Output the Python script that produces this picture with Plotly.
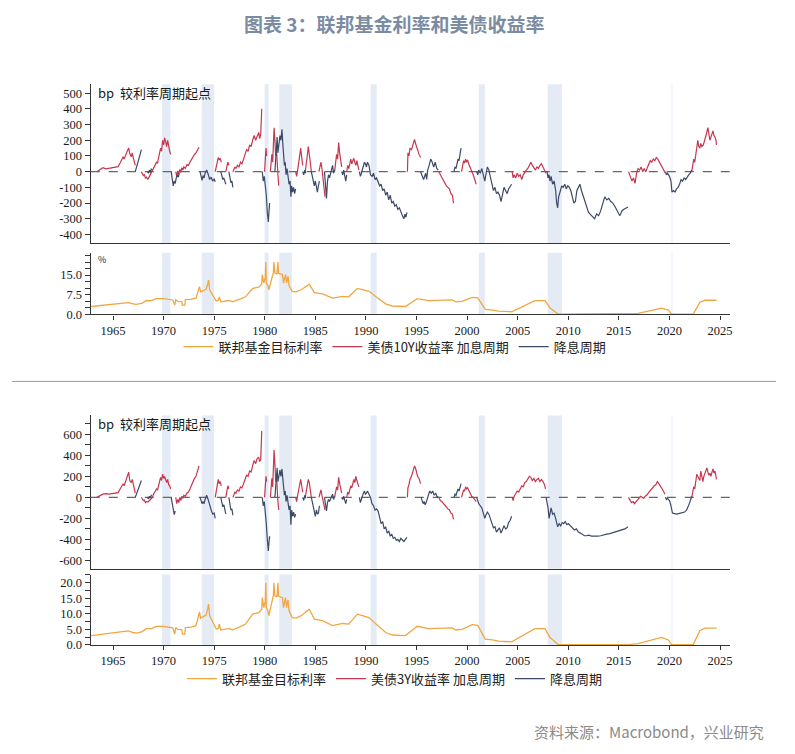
import plotly.graph_objects as go

# ---------------- data ----------------
FED_FUNDS = [(1962.85,3.0),(1963.5,3.3),(1964.0,3.5),(1964.8,3.8),(1965.8,4.25),(1966.5,4.5),(1967.0,4.0),
    (1967.3,3.8),(1967.9,4.3),(1968.3,5.3),(1968.7,5.2),(1969.0,5.7),(1969.3,6.0),(1970.0,6.0),(1970.7,5.8),
    (1970.9,5.5),(1971.1,3.5),(1971.2,5.6),(1971.4,5.0),(1971.8,4.9),(1971.85,3.5),(1972.1,3.5),(1972.15,5.6),
    (1972.7,5.7),(1973.2,6.2),(1973.45,9.0),(1973.55,10.6),(1973.65,8.6),(1974.2,9.6),(1974.35,11.5),
    (1974.45,13.1),(1974.55,9.4),(1974.85,7.2),(1975.2,5.1),(1975.4,5.3),(1975.5,6.7),(1975.65,4.8),
    (1976.0,5.0),(1976.5,5.3),(1976.8,4.8),(1977.4,5.5),(1977.8,6.2),(1978.1,6.7),(1978.8,9.9),(1979.4,10.4),
    (1979.7,11.5),(1979.75,15.2),(1979.9,12.0),(1980.05,14.0),(1980.1,20.0),(1980.15,12.0),(1980.3,11.0),
    (1980.4,9.4),(1980.7,14.1),(1980.85,16.0),(1980.9,20.0),(1981.0,15.7),(1981.2,15.5),(1981.3,20.0),
    (1981.35,15.7),(1981.75,15.2),(1981.85,12.0),(1982.05,15.2),(1982.15,12.0),(1982.3,14.5),(1982.4,11.0),
    (1982.7,8.8),(1983.1,8.6),(1983.6,9.4),(1984.4,11.5),(1984.7,9.4),(1984.9,8.3),(1985.7,7.8),(1986.7,6.2),
    (1987.7,6.9),(1988.3,6.7),(1989.15,9.9),(1990.3,8.8),(1991.0,6.7),(1991.95,4.0),(1992.6,3.2),(1993.9,3.0),
    (1995.07,6.0),(1996.2,5.25),(1998.5,5.5),(1998.9,4.8),(1999.5,5.0),(2000.5,6.5),(2001.05,6.3),(2001.8,1.9),
    (2002.5,1.6),(2003.1,1.2),(2004.4,1.0),(2006.7,5.25),(2007.7,5.25),(2008.2,2.4),(2009.0,0.12),(2015.9,0.12),
    (2016.9,0.4),(2018.25,1.5),(2019.2,2.4),(2019.9,1.6),(2020.2,0.1),(2022.35,0.1),(2023.0,4.6),(2023.5,5.4),
    (2024.65,5.4)]

# 10Y yield, bp change since start of each hiking cycle
Y10_HIKE = [
    [(1963.4,0),(1963.7,12),(1964.0,25),(1964.3,18),(1964.6,22),(1964.9,24),(1965.2,26),(1965.5,32),(1965.7,55),
     (1965.9,80),(1966.0,95),(1966.1,80),(1966.25,110),(1966.4,130),(1966.55,150),(1966.65,115),(1966.8,95),
     (1966.9,120),(1967.0,90),(1967.1,60),(1967.2,40)],
    [(1967.8,0),(1967.9,-15),(1968.0,-25),(1968.1,-20),(1968.2,-40),(1968.3,-35),(1968.45,-50),(1968.6,-30),
     (1968.75,-10),(1968.9,0),(1969.0,20),(1969.15,40),(1969.3,60),(1969.4,55),(1969.5,90),(1969.6,110),
     (1969.7,150),(1969.8,130),(1969.9,200),(1970.0,170),(1970.1,215),(1970.2,190),(1970.3,160),(1970.4,200),
     (1970.5,150),(1970.6,130),(1970.7,110)],
    [(1971.2,0),(1971.3,-30),(1971.4,5),(1971.5,-15),(1971.6,15),(1971.7,-5),(1971.8,25),(1971.9,10),(1972.0,30),
     (1972.15,20),(1972.3,45),(1972.45,40),(1972.6,60),(1972.75,80),(1972.9,95),(1973.05,110),(1973.2,120),
     (1973.35,135),(1973.5,155)],
    [(1975.1,0),(1975.2,30),(1975.3,55),(1975.4,90),(1975.5,75),(1975.6,85),(1975.7,60)],
    [(1976.15,0),(1976.25,35),(1976.35,60),(1976.45,40)],
    [(1976.85,0),(1976.95,20),(1977.05,30),(1977.15,20),(1977.3,40),(1977.45,30),(1977.6,60),(1977.75,50),
     (1977.9,90),(1978.05,110),(1978.2,140),(1978.35,130),(1978.5,170),(1978.65,160),(1978.8,200),(1978.95,230),
     (1979.1,200),(1979.25,220),(1979.4,250),(1979.5,210),(1979.6,240),(1979.7,400)],
    [(1979.98,0),(1980.05,70),(1980.12,150),(1980.18,100)],
    [(1980.55,0),(1980.62,50),(1980.7,110),(1980.78,60),(1980.85,140),(1980.92,280),(1981.0,200),(1981.08,100),
     (1981.15,150),(1981.22,40),(1981.3,-20),(1981.38,-90)],
    [(1983.05,0),(1983.15,-30),(1983.25,10),(1983.35,60),(1983.45,120),(1983.55,150),(1983.65,90),(1983.75,40)],
    [(1984.0,0),(1984.1,40),(1984.2,100),(1984.3,160),(1984.4,120),(1984.5,60),(1984.6,0)],
    [(1985.35,0),(1985.45,30),(1985.55,60),(1985.65,20),(1985.75,-40),(1985.85,-100),(1985.95,-160)],
    [(1986.9,0),(1987.0,50),(1987.1,110),(1987.2,80),(1987.3,185),(1987.4,120),(1987.5,60),(1987.6,30)],
    [(1988.1,0),(1988.2,40),(1988.3,20),(1988.4,60),(1988.5,80),(1988.6,50),(1988.7,70),(1988.8,85),(1988.9,60),
     (1989.0,40),(1989.1,70),(1989.2,30),(1989.3,10)],
    [(1994.1,0),(1994.15,120),(1994.25,100),(1994.35,150),(1994.5,140),(1994.65,180),(1994.8,205),(1994.95,170),
     (1995.1,130),(1995.25,110),(1995.4,90)],
    [(1997.2,0),(1997.35,-20),(1997.5,-30),(1997.65,-50),(1997.8,-70),(1997.95,-90),(1998.1,-100),(1998.25,-110),
     (1998.4,-140),(1998.55,-150),(1998.65,-200)],
    [(1999.45,0),(1999.55,40),(1999.65,70),(1999.75,55),(1999.85,80),(1999.95,60),(2000.05,75),(2000.15,50),
     (2000.3,30),(2000.45,0),(2000.6,-20),(2000.75,-50),(2000.9,-80)],
    [(2004.45,0),(2004.55,-40),(2004.65,-20),(2004.8,-40),(2004.95,-10),(2005.1,-30),(2005.25,-20),(2005.4,-50),
     (2005.55,-20),(2005.7,0),(2005.85,10),(2006.0,20),(2006.15,40),(2006.3,60),(2006.45,40),(2006.6,20),
     (2006.75,10),(2006.9,30),(2007.05,20),(2007.2,40),(2007.35,50),(2007.5,30),(2007.65,10),(2007.8,-10)],
    [(2015.95,0),(2016.1,-30),(2016.3,-60),(2016.45,-40),(2016.6,-75),(2016.75,-10),(2016.9,20),(2017.05,10),
     (2017.2,30),(2017.35,0),(2017.5,20),(2017.65,0),(2017.8,20),(2017.95,40),(2018.1,70),(2018.25,60),
     (2018.4,80),(2018.55,70),(2018.7,90),(2018.85,80),(2019.0,60),(2019.15,50),(2019.3,20),(2019.45,0),
     (2019.6,-10)],
    [(2022.2,0),(2022.3,40),(2022.4,80),(2022.5,60),(2022.6,120),(2022.7,180),(2022.8,200),(2022.9,160),
     (2023.0,150),(2023.1,180),(2023.2,160),(2023.35,170),(2023.5,200),(2023.65,240),(2023.8,280),(2023.9,240),
     (2024.0,200),(2024.1,220),(2024.2,250),(2024.3,260),(2024.4,230),(2024.5,220),(2024.6,200),(2024.65,170)],
]
# 10Y yield, bp change since start of each cutting cycle
Y10_CUT = [
    [(1967.2,0),(1967.35,30),(1967.5,60),(1967.6,90),(1967.7,115),(1967.8,140)],
    [(1968.4,0),(1968.5,-10),(1968.6,10),(1968.7,-5),(1968.8,20)],
    [(1970.75,0),(1970.85,-40),(1970.95,-90),(1971.05,-60),(1971.15,-75),(1971.25,-40),(1971.35,-20),
     (1971.45,-35),(1971.55,-10)],
    [(1973.6,0),(1973.7,-30),(1973.8,-55),(1973.9,-25),(1974.0,-40),(1974.1,-10),(1974.25,10),(1974.4,-15),
     (1974.55,-50),(1974.7,-35),(1974.85,-60),(1975.0,-45),(1975.1,-65)],
    [(1975.65,0),(1975.75,-25),(1975.85,-50),(1975.95,-40),(1976.05,-70),(1976.15,-80)],
    [(1976.45,0),(1976.55,-40),(1976.65,-70),(1976.75,-60),(1976.85,-100)],
    [(1979.75,0),(1979.85,-60),(1979.95,-30),(1980.05,-80),(1980.15,-150),(1980.25,-260),(1980.35,-320),
     (1980.42,-250),(1980.48,-200)],
    [(1981.0,0),(1981.08,80),(1981.15,150),(1981.22,220),(1981.3,120),(1981.4,180),(1981.5,230),(1981.6,200),
     (1981.7,270),(1981.78,180),(1981.86,130),(1981.94,40),(1982.02,60),(1982.1,-20),(1982.2,20),(1982.3,-30),
     (1982.4,-80),(1982.5,-60),(1982.58,-160),(1982.66,-90),(1982.75,-130),(1982.85,-100),(1982.95,-140),
     (1983.05,-110)],
    [(1983.75,0),(1983.85,-20),(1983.95,10),(1984.05,-10)],
    [(1984.6,0),(1984.7,-30),(1984.8,-60),(1984.9,-90),(1985.0,-60),(1985.1,-100),(1985.2,-130),(1985.3,-90),
     (1985.4,-60)],
    [(1985.9,0),(1986.0,-80),(1986.1,-170),(1986.2,-60),(1986.3,-20),(1986.4,-40),(1986.5,-10),(1986.6,20),
     (1986.7,40),(1986.8,-10),(1986.9,10)],
    [(1987.6,0),(1987.7,-20),(1987.8,10),(1987.9,-40),(1988.0,-60),(1988.1,-20)],
    [(1989.35,0),(1989.45,-30),(1989.55,-10),(1989.65,20),(1989.75,40),(1989.85,60),(1989.95,50),(1990.05,30),
     (1990.15,60),(1990.3,40),(1990.45,-20),(1990.6,-30),(1990.75,-10),(1990.9,-50),(1991.05,-40),(1991.2,-70),
     (1991.35,-90),(1991.5,-80),(1991.65,-120),(1991.8,-110),(1991.95,-150),(1992.1,-130),(1992.25,-180),
     (1992.4,-150),(1992.55,-200),(1992.7,-190),(1992.85,-220),(1993.0,-210),(1993.15,-240),(1993.3,-230),
     (1993.45,-260),(1993.6,-280),(1993.75,-300),(1993.85,-270),(1993.95,-290),(1994.05,-260)],
    [(1995.4,0),(1995.5,-20),(1995.6,-40),(1995.7,-50),(1995.8,-30),(1995.9,-10),(1996.0,-50),(1996.1,10),
     (1996.25,40),(1996.4,80),(1996.55,60),(1996.7,30),(1996.85,60),(1997.0,20),(1997.15,10)],
    [(1998.7,0),(1998.8,30),(1998.9,20),(1999.0,60),(1999.1,80),(1999.2,70),(1999.3,110),(1999.4,150)],
    [(2000.95,0),(2001.05,-20),(2001.15,10),(2001.3,-10),(2001.45,20),(2001.6,-30),(2001.75,-60),(2001.85,-20),
     (2002.0,30),(2002.15,10),(2002.3,-30),(2002.45,-70),(2002.6,-120),(2002.75,-100),(2002.9,-140),
     (2003.05,-130),(2003.2,-150),(2003.35,-190),(2003.5,-130),(2003.65,-100),(2003.8,-120),(2003.95,-140),
     (2004.1,-110),(2004.25,-90),(2004.4,-80)],
    [(2007.9,0),(2008.0,-40),(2008.1,-20),(2008.2,-60),(2008.3,-30),(2008.45,-80),(2008.6,-60),(2008.75,-120),
     (2008.85,-200),(2008.95,-230),(2009.05,-160),(2009.2,-130),(2009.35,-90),(2009.5,-100),(2009.65,-80),
     (2009.8,-110),(2009.95,-90),(2010.1,-100),(2010.25,-120),(2010.4,-160),(2010.55,-200),(2010.7,-190),
     (2010.85,-120),(2011.0,-100),(2011.15,-80),(2011.3,-120),(2011.45,-150),(2011.6,-180),(2011.8,-230),
     (2012.0,-260),(2012.3,-280),(2012.6,-300),(2012.8,-270),(2013.0,-280),(2013.2,-250),(2013.4,-200),
     (2013.6,-160),(2013.8,-180),(2014.0,-170),(2014.2,-190),(2014.4,-200),(2014.6,-220),(2014.8,-250),
     (2015.0,-270),(2015.1,-280),(2015.3,-250),(2015.5,-240),(2015.7,-235),(2015.9,-225)],
    [(2019.6,0),(2019.7,-20),(2019.8,-10),(2019.9,-20),(2020.0,-30),(2020.15,-60),(2020.25,-130),(2020.4,-120),
     (2020.55,-130),(2020.7,-110),(2020.85,-100),(2021.0,-80),(2021.15,-50),(2021.3,-60),(2021.45,-40),
     (2021.6,-50),(2021.75,-30),(2021.9,-20),(2022.05,-10),(2022.2,10)],
]

# 3Y yield, bp change since start of each hiking cycle
Y3_HIKE = [
    [(1963.4,0),(1963.7,15),(1964.0,30),(1964.3,35),(1964.6,30),(1964.9,35),(1965.2,40),(1965.5,45),(1965.7,80),
     (1965.9,110),(1966.0,130),(1966.1,110),(1966.25,150),(1966.4,200),(1966.55,240),(1966.65,160),(1966.8,140),
     (1966.9,170),(1967.0,120),(1967.1,80),(1967.2,40)],
    [(1967.8,0),(1967.9,-20),(1968.0,-30),(1968.1,-25),(1968.2,-50),(1968.3,-40),(1968.45,-45),(1968.6,-30),
     (1968.75,-10),(1968.9,0),(1969.0,30),(1969.15,50),(1969.3,80),(1969.4,70),(1969.5,110),(1969.6,140),
     (1969.7,190),(1969.8,160),(1969.9,220),(1970.0,180),(1970.1,200),(1970.2,170),(1970.3,140),(1970.4,170),
     (1970.5,120),(1970.6,110),(1970.7,80)],
    [(1971.2,0),(1971.3,-60),(1971.4,-20),(1971.5,-50),(1971.6,0),(1971.7,-30),(1971.8,10),(1971.9,-10),
     (1972.0,20),(1972.15,10),(1972.3,40),(1972.45,50),(1972.6,80),(1972.75,120),(1972.9,150),(1973.05,180),
     (1973.2,200),(1973.35,250),(1973.5,300)],
    [(1975.1,0),(1975.2,50),(1975.3,100),(1975.4,170),(1975.5,130),(1975.6,150),(1975.7,110)],
    [(1976.15,0),(1976.25,60),(1976.35,110),(1976.45,80)],
    [(1976.85,0),(1976.95,30),(1977.05,50),(1977.15,40),(1977.3,70),(1977.45,60),(1977.6,100),(1977.75,90),
     (1977.9,140),(1978.05,170),(1978.2,210),(1978.35,200),(1978.5,250),(1978.65,240),(1978.8,300),(1978.95,350),
     (1979.1,320),(1979.25,370),(1979.4,380),(1979.5,340),(1979.6,360),(1979.7,630)],
    [(1979.98,0),(1980.05,100),(1980.12,200),(1980.18,150)],
    [(1980.55,0),(1980.62,80),(1980.7,180),(1980.78,100),(1980.85,250),(1980.92,450),(1981.0,320),(1981.08,150),
     (1981.15,220),(1981.22,60),(1981.3,-40),(1981.38,-120)],
    [(1983.05,0),(1983.15,-40),(1983.25,20),(1983.35,80),(1983.45,150),(1983.55,170),(1983.65,110),(1983.75,50)],
    [(1984.0,0),(1984.1,50),(1984.2,110),(1984.3,170),(1984.4,140),(1984.5,70),(1984.6,0)],
    [(1985.35,0),(1985.45,40),(1985.55,70),(1985.65,20),(1985.75,-40),(1985.85,-90),(1985.95,-120)],
    [(1986.9,0),(1987.0,40),(1987.1,100),(1987.2,70),(1987.3,190),(1987.4,130),(1987.5,70),(1987.6,40)],
    [(1988.1,0),(1988.2,50),(1988.3,30),(1988.4,80),(1988.5,110),(1988.6,90),(1988.7,130),(1988.8,170),
     (1988.9,140),(1989.0,200),(1989.1,160),(1989.2,130),(1989.3,100)],
    [(1994.1,0),(1994.15,90),(1994.25,120),(1994.35,170),(1994.5,200),(1994.65,250),(1994.8,300),(1994.95,260),
     (1995.1,200),(1995.25,180),(1995.4,130)],
    [(1997.2,0),(1997.35,-30),(1997.5,-40),(1997.65,-60),(1997.8,-80),(1997.95,-100),(1998.1,-110),
     (1998.25,-120),(1998.4,-150),(1998.55,-160),(1998.65,-210)],
    [(1999.45,0),(1999.55,40),(1999.65,70),(1999.75,60),(1999.85,100),(1999.95,80),(2000.05,90),(2000.15,70),
     (2000.3,40),(2000.45,10),(2000.6,0),(2000.75,-20),(2000.9,-40)],
    [(2004.45,0),(2004.55,-30),(2004.65,10),(2004.8,30),(2004.95,60),(2005.1,50),(2005.25,90),(2005.4,110),
     (2005.55,100),(2005.7,140),(2005.85,150),(2006.0,170),(2006.15,200),(2006.3,190),(2006.45,160),
     (2006.6,180),(2006.75,150),(2006.9,170),(2007.05,180),(2007.2,150),(2007.35,170),(2007.5,150),
     (2007.65,120),(2007.75,80)],
    [(2015.95,0),(2016.1,-30),(2016.25,-50),(2016.4,-40),(2016.55,-60),(2016.7,-40),(2016.85,-20),(2017.0,-10),
     (2017.15,10),(2017.3,0),(2017.45,-10),(2017.6,10),(2017.75,20),(2017.9,40),(2018.05,60),(2018.2,80),
     (2018.35,100),(2018.5,110),(2018.65,120),(2018.8,150),(2018.95,130),(2019.1,110),(2019.25,90),
     (2019.4,60),(2019.55,30)],
    [(2022.2,0),(2022.3,50),(2022.4,100),(2022.5,80),(2022.6,150),(2022.7,220),(2022.8,200),(2022.9,170),
     (2023.0,160),(2023.1,250),(2023.2,180),(2023.3,150),(2023.4,200),(2023.5,230),(2023.6,260),(2023.7,280),
     (2023.8,240),(2023.9,210),(2024.0,230),(2024.1,200),(2024.2,240),(2024.3,270),(2024.4,230),(2024.5,250),
     (2024.6,200),(2024.65,170)],
]
# 3Y yield, bp change since start of each cutting cycle
Y3_CUT = [
    [(1967.2,0),(1967.35,40),(1967.5,80),(1967.6,120),(1967.7,140),(1967.8,160)],
    [(1968.4,0),(1968.5,-15),(1968.6,10),(1968.7,-5),(1968.8,25)],
    [(1970.75,0),(1970.85,-60),(1970.95,-120),(1971.05,-165),(1971.15,-130)],
    [(1973.6,0),(1973.7,-40),(1973.8,-60),(1973.9,-40),(1974.0,-60),(1974.1,-20),(1974.25,20),(1974.4,-20),
     (1974.55,-80),(1974.7,-120),(1974.85,-160),(1975.0,-150),(1975.1,-200)],
    [(1975.65,0),(1975.75,-40),(1975.85,-90),(1975.95,-70),(1976.05,-130),(1976.15,-160)],
    [(1976.45,0),(1976.55,-60),(1976.65,-120),(1976.75,-110),(1976.85,-170)],
    [(1979.75,0),(1979.85,-80),(1979.95,-40),(1980.05,-120),(1980.15,-250),(1980.25,-400),(1980.35,-510),
     (1980.42,-420),(1980.48,-370)],
    [(1981.0,0),(1981.08,100),(1981.15,200),(1981.22,280),(1981.3,150),(1981.4,220),(1981.5,260),(1981.6,200),
     (1981.7,270),(1981.78,180),(1981.86,120),(1981.94,20),(1982.02,60),(1982.1,-40),(1982.2,20),(1982.3,-60),
     (1982.4,-120),(1982.5,-80),(1982.58,-260),(1982.66,-120),(1982.75,-180),(1982.85,-140),(1982.95,-190),
     (1983.05,-160)],
    [(1983.75,0),(1983.85,-30),(1983.95,20),(1984.05,-10)],
    [(1984.6,0),(1984.7,-40),(1984.8,-80),(1984.9,-130),(1985.0,-180),(1985.1,-120),(1985.2,-160),(1985.3,-150),
     (1985.4,-80)],
    [(1985.9,0),(1986.0,-60),(1986.1,-130),(1986.2,-50),(1986.3,-20),(1986.4,-40),(1986.5,-10),(1986.6,10),
     (1986.7,30),(1986.8,-20),(1986.9,10)],
    [(1987.6,0),(1987.7,-20),(1987.8,10),(1987.9,-40),(1988.0,-60),(1988.1,-20)],
    [(1989.35,0),(1989.45,-50),(1989.55,-20),(1989.65,20),(1989.75,40),(1989.85,60),(1989.95,30),(1990.05,40),
     (1990.15,60),(1990.3,30),(1990.45,0),(1990.6,-60),(1990.75,-80),(1990.9,-120),(1991.05,-110),
     (1991.2,-130),(1991.35,-180),(1991.5,-250),(1991.65,-230),(1991.8,-300),(1991.95,-280),(1992.1,-340),
     (1992.25,-320),(1992.4,-370),(1992.55,-350),(1992.7,-390),(1992.85,-380),(1993.0,-410),(1993.15,-400),
     (1993.3,-420),(1993.45,-390),(1993.6,-410),(1993.75,-420),(1993.9,-400),(1994.05,-380)],
    [(1995.45,0),(1995.55,-30),(1995.65,-60),(1995.75,-40),(1995.85,-70),(1995.95,-50),(1996.05,-20),
     (1996.15,30),(1996.3,60),(1996.45,40),(1996.6,60),(1996.75,20),(1996.9,40),(1997.05,0),(1997.15,10)],
    [(1998.7,0),(1998.8,30),(1998.9,20),(1999.0,50),(1999.1,80),(1999.2,60),(1999.3,100),(1999.4,130)],
    [(2000.95,0),(2001.05,-30),(2001.15,-60),(2001.3,-80),(2001.45,-100),(2001.6,-150),(2001.75,-200),
     (2001.85,-170),(2002.0,-140),(2002.15,-160),(2002.3,-200),(2002.45,-250),(2002.6,-290),(2002.75,-280),
     (2002.9,-330),(2003.05,-310),(2003.2,-290),(2003.35,-340),(2003.5,-310),(2003.65,-270),(2003.8,-300),
     (2003.95,-290),(2004.1,-240),(2004.25,-220),(2004.4,-180)],
    [(2007.8,0),(2007.9,-50),(2008.0,-100),(2008.1,-200),(2008.2,-130),(2008.3,-100),(2008.45,-160),
     (2008.6,-150),(2008.75,-200),(2008.85,-260),(2008.95,-280),(2009.1,-250),(2009.25,-270),(2009.4,-240),
     (2009.55,-250),(2009.7,-230),(2009.85,-260),(2010.0,-250),(2010.2,-270),(2010.4,-290),(2010.6,-310),
     (2010.8,-300),(2011.0,-330),(2011.2,-340),(2011.4,-350),(2011.6,-365),(2011.8,-365),(2012.0,-360),
     (2012.3,-368),(2012.6,-370),(2012.9,-368),(2013.2,-365),(2013.5,-355),(2013.8,-350),(2014.1,-345),
     (2014.4,-335),(2014.7,-330),(2015.0,-320),(2015.3,-310),(2015.6,-300),(2015.9,-280)],
    [(2019.6,0),(2019.7,-20),(2019.8,-10),(2019.9,-20),(2020.0,-30),(2020.1,-60),(2020.2,-130),(2020.3,-150),
     (2020.5,-155),(2020.7,-160),(2020.9,-155),(2021.1,-150),(2021.3,-145),(2021.5,-140),(2021.7,-120),
     (2021.85,-90),(2022.0,-50),(2022.1,-20),(2022.2,10)],
]

RECESSIONS = [(1969.83,1970.68),(1973.77,1974.99),(1979.98,1980.38),(1981.43,1982.68),(1990.47,1991.06),
              (2001.15,2001.75),(2007.96,2009.37)]
FAINT_RECESSIONS = [(2020.17,2020.33)]

X_TICKS = [1965, 1970, 1975, 1980, 1985, 1990, 1995, 2000, 2005, 2010, 2015, 2020, 2025]
Y10_TICKS = [-400, -300, -200, -100, 0, 100, 200, 300, 400, 500]
Y3_TICKS = [-600, -400, -200, 0, 200, 400, 600]
Y3_MINOR = [-500, -300, -100, 100, 300, 500, 700]
FF_TICKS_TOP = [0.0, 7.5, 15.0]
FF_MINOR_TOP = [2.5, 5.0, 10.0, 12.5, 17.5, 20.0, 22.5]
FF_TICKS_BOT = [0.0, 5.0, 10.0, 15.0, 20.0]
FF_MINOR_BOT = [2.5, 7.5, 12.5, 17.5, 22.5]

TITLE = "图表 3：联邦基金利率和美债收益率"
SOURCE = "资料来源：Macrobond，兴业研究"

# ---------------- styling ----------------
ORANGE = "#f0a742"
RED = "#c6374f"
NAVY = "#3c4a68"
BAND = "#e4ebf5"
FAINT_BAND = "#f0f4f9"
AXC = "#333333"
TICKFONT = dict(family="Liberation Serif, 'Times New Roman', serif", size=12.5, color="#1a1a1a")
CJK = "Noto Sans CJK SC"

W, H = 795, 754
XD = [91 / W, 732 / W]
def ydom(top_px, bot_px):
    return [1 - bot_px / H, 1 - top_px / H]

XR = [1962.8, 2026.0]

def join(segs):
    xs, ys = [], []
    for seg in segs:
        xs += [p[0] for p in seg] + [None]
        ys += [p[1] for p in seg] + [None]
    return xs, ys

def fmt(v):
    return ("%d" % v) if isinstance(v, int) else ("%.1f" % v)

fig = go.Figure()

def add_group(hike, cut, xa, ya_bp, xa_ff, ya_ff, legend, red_name):
    x, y = join(hike)
    fig.add_trace(go.Scatter(x=x, y=y, mode="lines", line=dict(color=RED, width=1.2),
                             name=red_name, xaxis=xa, yaxis=ya_bp, legend=legend,
                             legendrank=2, connectgaps=False, hoverinfo="skip"))
    x, y = join(cut)
    fig.add_trace(go.Scatter(x=x, y=y, mode="lines", line=dict(color=NAVY, width=1.2),
                             name="降息周期", xaxis=xa, yaxis=ya_bp, legend=legend,
                             legendrank=3, connectgaps=False, hoverinfo="skip"))
    fig.add_trace(go.Scatter(x=[p[0] for p in FED_FUNDS], y=[p[1] for p in FED_FUNDS], mode="lines",
                             line=dict(color=ORANGE, width=1.3), name="联邦基金目标利率",
                             xaxis=xa_ff, yaxis=ya_ff, legend=legend, legendrank=1, hoverinfo="skip"))

add_group(Y10_HIKE, Y10_CUT, "x", "y", "x2", "y2", "legend", "美债10Y收益率 加息周期")
add_group(Y3_HIKE, Y3_CUT, "x3", "y3", "x4", "y4", "legend2", "美债3Y收益率 加息周期")

def xaxis_cfg(anchor, dom_labels):
    d = dict(domain=XD, range=XR, anchor=anchor, showgrid=False, zeroline=False,
             showline=True, linecolor=AXC, linewidth=1.4, tickfont=TICKFONT, fixedrange=True)
    if dom_labels:
        d.update(tickmode="array", tickvals=X_TICKS, ticktext=[str(v) for v in X_TICKS],
                 ticks="outside", ticklen=4, tickcolor=AXC, showticklabels=True)
    else:
        d.update(showticklabels=False, ticks="")
    return d

def yaxis_cfg(anchor, dom, rng, tv, minor=None):
    d = dict(domain=dom, range=rng, anchor=anchor, showgrid=False, zeroline=False,
             showline=True, linecolor=AXC, linewidth=1.4, tickfont=TICKFONT,
             tickmode="array", tickvals=tv, ticktext=[fmt(v) for v in tv],
             ticks="outside", ticklen=5, tickcolor=AXC, fixedrange=True)
    if minor:
        d["minor"] = dict(tickmode="array", tickvals=minor, ticks="outside", ticklen=5, tickcolor=AXC)
    return d

LEGFONT = dict(family=CJK, size=13, color="#222")
fig.update_layout(
    width=W, height=H, margin=dict(l=0, r=0, t=0, b=0),
    paper_bgcolor="white", plot_bgcolor="white",
    xaxis=xaxis_cfg("y", False),
    yaxis=yaxis_cfg("x", ydom(85, 245.7), [-457, 557], Y10_TICKS),
    xaxis2=xaxis_cfg("y2", True),
    yaxis2=yaxis_cfg("x2", ydom(255, 317.3), [0, 23.6], FF_TICKS_TOP, FF_MINOR_TOP),
    xaxis3=xaxis_cfg("y3", False),
    yaxis3=yaxis_cfg("x3", ydom(419.3, 574), [-678, 779], Y3_TICKS, Y3_MINOR),
    xaxis4=xaxis_cfg("y4", True),
    yaxis4=yaxis_cfg("x4", ydom(580, 651), [0, 22.6], FF_TICKS_BOT, FF_MINOR_BOT),
    legend=dict(orientation="h", x=0.498, xanchor="center", y=1 - 350 / H, yanchor="middle",
                font=LEGFONT, bgcolor="rgba(0,0,0,0)", itemwidth=30, traceorder="normal"),
    legend2=dict(orientation="h", x=0.498, xanchor="center", y=1 - 685 / H, yanchor="middle",
                 font=LEGFONT, bgcolor="rgba(0,0,0,0)", itemwidth=30, traceorder="normal"),
    showlegend=True,
)

shapes = []
for xa, ya in [("x", "y"), ("x2", "y2"), ("x3", "y3"), ("x4", "y4")]:
    for a, b in RECESSIONS:
        shapes.append(dict(type="rect", xref=xa, yref=ya + " domain", x0=a, x1=b, y0=0, y1=1,
                           fillcolor=BAND, line=dict(width=0), layer="below"))
    for a, b in FAINT_RECESSIONS:
        shapes.append(dict(type="rect", xref=xa, yref=ya + " domain", x0=a, x1=b, y0=0, y1=1,
                           fillcolor=FAINT_BAND, line=dict(width=0), layer="below"))
for xa, ya in [("x", "y"), ("x3", "y3")]:
    shapes.append(dict(type="line", xref=xa + " domain", yref=ya, x0=0, x1=1, y0=0, y1=0,
                       line=dict(color="#666666", width=1.3, dash="dash"), layer="below"))
shapes.append(dict(type="line", xref="paper", yref="paper", x0=12 / W, x1=778 / W,
                   y0=1 - 385 / H, y1=1 - 385 / H, line=dict(color="#9a9a9a", width=1)))
fig.update_layout(shapes=shapes)

ann = [
    dict(text="<b>" + TITLE + "</b>", x=395 / W, y=1 - 24 / H, xref="paper", yref="paper",
         xanchor="center", yanchor="middle", showarrow=False,
         font=dict(family=CJK, size=19, color="#7b8ba2")),
    dict(text="bp  较利率周期起点", x=96 / W, y=1 - 93 / H, xref="paper", yref="paper",
         xanchor="left", yanchor="middle", showarrow=False, font=dict(family=CJK, size=13, color="#1a1a1a")),
    dict(text="%", x=96 / W, y=1 - 262 / H, xref="paper", yref="paper",
         xanchor="left", yanchor="middle", showarrow=False, font=dict(family=CJK, size=9, color="#1a1a1a")),
    dict(text="bp  较利率周期起点", x=96 / W, y=1 - 427 / H, xref="paper", yref="paper",
         xanchor="left", yanchor="middle", showarrow=False, font=dict(family=CJK, size=13, color="#1a1a1a")),
    dict(text=SOURCE, x=768 / W, y=1 - 738 / H, xref="paper", yref="paper",
         xanchor="right", yanchor="middle", showarrow=False, font=dict(family=CJK, size=15, color="#8a8a8a")),
]
fig.update_layout(annotations=ann)

fig.write_html("out.html")
